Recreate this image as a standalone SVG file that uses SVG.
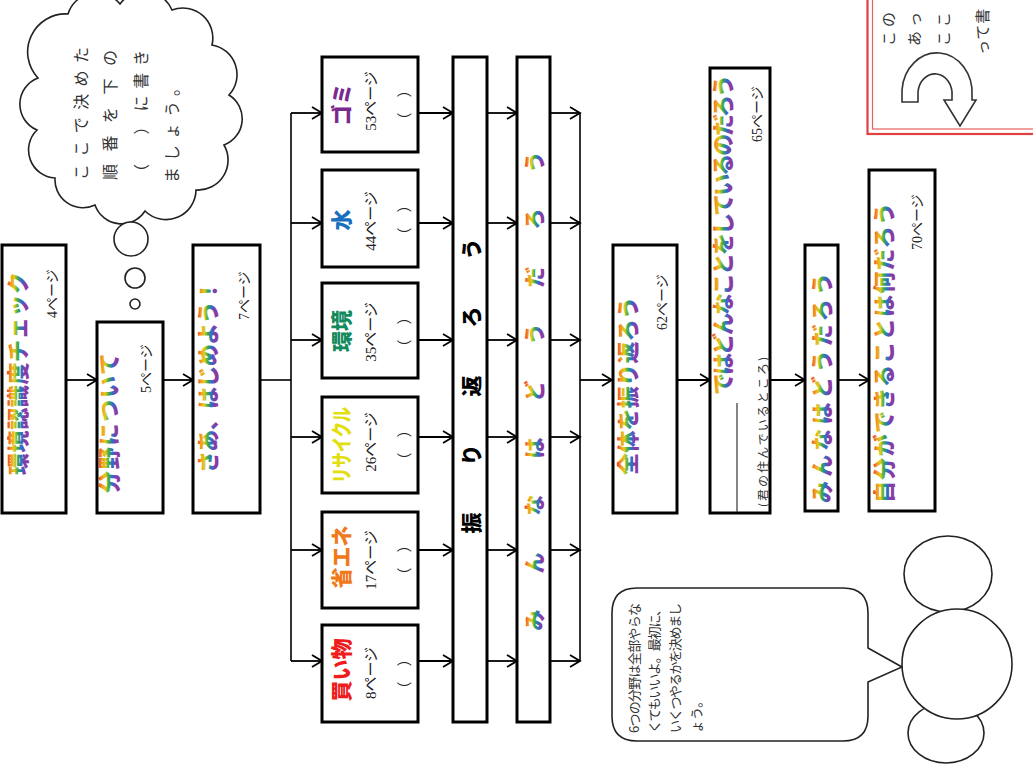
<svg xmlns="http://www.w3.org/2000/svg" width="1033" height="765" viewBox="0 0 1033 765">
<defs>
<style>
.box{fill:#fff;stroke:#000;stroke-width:3}
.ln{fill:none;stroke:#000;stroke-width:1.6}
.ar{fill:none;stroke:#000;stroke-width:1.8;marker-end:url(#ah)}
.ti{font-family:"Noto Sans CJK JP",sans-serif;dominant-baseline:central;font-weight:900;fill:url(#rb);font-size:22px}
.pg{font-family:"Liberation Serif","Noto Sans CJK JP",serif;dominant-baseline:central;font-size:14px;fill:#222}
.cat{font-family:"Noto Sans CJK JP",sans-serif;dominant-baseline:central;font-weight:900;font-size:21px;text-anchor:middle}
.cp{font-family:"Liberation Serif","Noto Sans CJK JP",serif;dominant-baseline:central;font-size:15px;text-anchor:middle;fill:#222}
.nt{font-family:"Noto Sans CJK JP",sans-serif;dominant-baseline:central;fill:#333}
.thin{fill:#fff;stroke:#222;stroke-width:1.6}
</style>
<linearGradient id="rb" x1="0" y1="0" x2="0" y2="1">
<stop offset="0.22" stop-color="#e8323c"/>
<stop offset="0.34" stop-color="#f39a1e"/>
<stop offset="0.45" stop-color="#e0cc1e"/>
<stop offset="0.56" stop-color="#3aa84a"/>
<stop offset="0.67" stop-color="#2b6fd0"/>
<stop offset="0.78" stop-color="#8a3aa0"/>
</linearGradient>
<marker id="ah" markerUnits="userSpaceOnUse" markerWidth="14" markerHeight="14" refX="12" refY="7" orient="auto">
<path d="M2,1 L12,7 L2,13" fill="none" stroke="#000" stroke-width="1.8"/>
</marker>
</defs>
<rect width="1033" height="765" fill="#fff"/>

<g id="thought-cloud">
<path class="thin" d="M68,14 A30,30 0 0 1 120,4 A30,30 0 0 1 172,10 A30,30 0 0 1 212,45 A30,30 0 0 1 229,95 A28,28 0 0 1 224,145 A30,30 0 0 1 196,190 A30,30 0 0 1 145,211 A28,28 0 0 1 95,205 A28,28 0 0 1 55,178 A28,28 0 0 1 37,130 A28,28 0 0 1 38,78 A38,38 0 0 1 68,14 Z"/>
<text class="nt" font-size="16" transform="translate(80,180) rotate(-90)" textLength="133" lengthAdjust="spacing">ここで決めた</text>
<text class="nt" font-size="16" transform="translate(109,180) rotate(-90)" textLength="130" lengthAdjust="spacing">順番を下の</text>
<text class="nt" font-size="16" transform="translate(140,180) rotate(-90)" textLength="130" lengthAdjust="spacing">（　）に書き</text>
<text class="nt" font-size="16" transform="translate(171,183) rotate(-90)" textLength="103" lengthAdjust="spacing">ましょう。</text>
<circle class="thin" cx="131" cy="239" r="17"/>
<circle class="thin" cx="135" cy="278" r="10"/>
<circle class="thin" cx="135" cy="304" r="5"/>
</g>

<g id="connectors">
<line class="ar" x1="66" y1="380" x2="97" y2="380"/>
<line class="ar" x1="163" y1="380" x2="193" y2="380"/>
<line class="ln" x1="260" y1="380" x2="291" y2="380"/>
<line class="ln" x1="291" y1="113" x2="291" y2="661"/>
<line class="ar" x1="291" y1="113" x2="322" y2="113"/>
<line class="ar" x1="291" y1="223" x2="322" y2="223"/>
<line class="ar" x1="291" y1="340" x2="322" y2="340"/>
<line class="ar" x1="291" y1="437" x2="322" y2="437"/>
<line class="ar" x1="291" y1="550" x2="322" y2="550"/>
<line class="ar" x1="291" y1="661" x2="322" y2="661"/>
<line class="ar" x1="418" y1="113" x2="453" y2="113"/>
<line class="ar" x1="418" y1="223" x2="453" y2="223"/>
<line class="ar" x1="418" y1="340" x2="453" y2="340"/>
<line class="ar" x1="418" y1="437" x2="453" y2="437"/>
<line class="ar" x1="418" y1="550" x2="453" y2="550"/>
<line class="ar" x1="418" y1="661" x2="453" y2="661"/>
<line class="ar" x1="487" y1="113" x2="517" y2="113"/>
<line class="ar" x1="487" y1="223" x2="517" y2="223"/>
<line class="ar" x1="487" y1="340" x2="517" y2="340"/>
<line class="ar" x1="487" y1="437" x2="517" y2="437"/>
<line class="ar" x1="487" y1="550" x2="517" y2="550"/>
<line class="ar" x1="487" y1="661" x2="517" y2="661"/>
<line class="ar" x1="550" y1="113" x2="580" y2="113"/>
<line class="ar" x1="550" y1="223" x2="580" y2="223"/>
<line class="ar" x1="550" y1="340" x2="580" y2="340"/>
<line class="ar" x1="550" y1="437" x2="580" y2="437"/>
<line class="ar" x1="550" y1="550" x2="580" y2="550"/>
<line class="ar" x1="550" y1="661" x2="580" y2="661"/>
<line class="ln" x1="580" y1="113" x2="580" y2="661"/>
<line class="ar" x1="580" y1="380" x2="612" y2="380"/>
<line class="ar" x1="677" y1="380" x2="710" y2="380"/>
<line class="ar" x1="770" y1="380" x2="805" y2="380"/>
<line class="ar" x1="838" y1="380" x2="869" y2="380"/>
</g>

<g id="n-check">
<rect class="box" x="2" y="245" width="64" height="268"/>
<text class="ti" transform="translate(16,475) rotate(-90)" textLength="203" lengthAdjust="spacing">環境認識度チェック</text>
<text class="pg" transform="translate(52,318) rotate(-90)">4ページ</text>
</g>

<g id="n-bunya">
<rect class="box" x="97" y="322" width="66" height="191"/>
<text class="ti" transform="translate(107,493) rotate(-90)" textLength="140" lengthAdjust="spacing">分野について</text>
<text class="pg" transform="translate(146,393) rotate(-90)">5ページ</text>
</g>

<g id="n-start">
<rect class="box" x="193" y="245" width="67" height="268"/>
<text class="ti" font-size="21" transform="translate(206,473) rotate(-90)" textLength="193" lengthAdjust="spacing">さあ、はじめよう！</text>
<text class="pg" transform="translate(244,320) rotate(-90)">7ページ</text>
</g>

<g id="n-gomi">
<rect class="box" x="322" y="57" width="96" height="95"/>
<text class="cat" fill="#7a2a8e" transform="translate(340,104.5) rotate(-90)">ゴミ</text>
<text class="cp" transform="translate(371,101) rotate(-90)">53ページ</text>
<text class="cp" transform="translate(405,105) rotate(-90)">（　）</text>
</g>

<g id="n-mizu">
<rect class="box" x="322" y="170" width="96" height="97"/>
<text class="cat" fill="#1b6fc0" transform="translate(340,220) rotate(-90)">水</text>
<text class="cp" transform="translate(371,221) rotate(-90)">44ページ</text>
<text class="cp" transform="translate(405,220) rotate(-90)">（　）</text>
</g>

<g id="n-kankyo">
<rect class="box" x="322" y="283" width="96" height="95"/>
<text class="cat" fill="#138a5e" transform="translate(340,331) rotate(-90)">環境</text>
<text class="cp" transform="translate(371,332) rotate(-90)">35ページ</text>
<text class="cp" transform="translate(405,332) rotate(-90)">（　）</text>
</g>

<g id="n-recycle">
<rect class="box" x="322" y="397" width="96" height="96"/>
<text class="cat" fill="#e3de10" font-size="17" transform="translate(340,445) rotate(-90)" textLength="76" lengthAdjust="spacingAndGlyphs">リサイクル</text>
<text class="cp" transform="translate(371,442) rotate(-90)">26ページ</text>
<text class="cp" transform="translate(405,445) rotate(-90)">（　）</text>
</g>

<g id="n-shoene">
<rect class="box" x="322" y="512" width="96" height="96"/>
<text class="cat" fill="#f07a1a" font-size="20" transform="translate(340,557) rotate(-90)">省エネ</text>
<text class="cp" transform="translate(371,560) rotate(-90)">17ページ</text>
<text class="cp" transform="translate(405,560) rotate(-90)">（　）</text>
</g>

<g id="n-kaimono">
<rect class="box" x="322" y="625" width="96" height="97"/>
<text class="cat" fill="#ee1c1c" transform="translate(340,670) rotate(-90)">買い物</text>
<text class="cp" transform="translate(371,673) rotate(-90)">8ページ</text>
<text class="cp" transform="translate(405,674) rotate(-90)">（　）</text>
</g>

<g id="n-furikaero">
<rect class="box" x="453" y="57" width="34" height="665"/>
<g class="cat" font-size="22" fill="#000">
<text transform="translate(470,523) rotate(-90)">振</text>
<text transform="translate(470,455) rotate(-90)">り</text>
<text transform="translate(470,386) rotate(-90)">返</text>
<text transform="translate(470,317) rotate(-90)">ろ</text>
<text transform="translate(470,249) rotate(-90)">う</text>
</g>
</g>

<g id="n-minna-bar">
<rect class="box" x="517" y="57" width="33" height="665"/>
<g class="cat" font-size="20" fill="url(#rb)">
<text transform="translate(533,620) rotate(-90)">み</text>
<text transform="translate(533,563) rotate(-90)">ん</text>
<text transform="translate(533,505) rotate(-90)">な</text>
<text transform="translate(533,448) rotate(-90)">は</text>
<text transform="translate(533,391) rotate(-90)">ど</text>
<text transform="translate(533,334) rotate(-90)">う</text>
<text transform="translate(533,277) rotate(-90)">だ</text>
<text transform="translate(533,219) rotate(-90)">ろ</text>
<text transform="translate(533,162) rotate(-90)">う</text>
</g>
</g>

<g id="n-zentai">
<rect class="box" x="613" y="245" width="64" height="268"/>
<text class="ti" transform="translate(626,475) rotate(-90)" textLength="178" lengthAdjust="spacing">全体を振り返ろう</text>
<text class="pg" transform="translate(662,330) rotate(-90)">62ページ</text>
</g>

<g id="n-dewa">
<rect class="box" x="710" y="68" width="60" height="445"/>
<text class="ti" font-size="19.5" transform="translate(721,395) rotate(-90)" textLength="320" lengthAdjust="spacing">ではどんなことをしているのだろう</text>
<text class="pg" transform="translate(757,142) rotate(-90)">65ページ</text>
<line x1="737" y1="403" x2="737" y2="512" stroke="#333" stroke-width="1.2"/>
<text class="nt" font-size="12" transform="translate(762,507) rotate(-90)" textLength="150" lengthAdjust="spacing">(君の住んでいるところ)</text>
</g>

<g id="n-minna">
<rect class="box" x="805" y="245" width="33" height="266"/>
<text class="ti" font-size="21" transform="translate(820,503) rotate(-90)" textLength="230" lengthAdjust="spacing">みんなはどうだろう</text>
</g>

<g id="n-jibun">
<rect class="box" x="869" y="170" width="66" height="341"/>
<text class="ti" transform="translate(882,503) rotate(-90)" textLength="300" lengthAdjust="spacing">自分ができることは何だろう</text>
<text class="pg" transform="translate(917,250) rotate(-90)">70ページ</text>
</g>

<g id="speech-bubble">
<path class="thin" d="M637,588 L843,588 Q868,588 868,613 L868,648 L902,667 L868,682 L868,716 Q868,741 843,741 L637,741 Q612,741 612,716 L612,613 Q612,588 637,588 Z"/>
<text class="nt" font-size="13" transform="translate(633,733) rotate(-90)" textLength="130" lengthAdjust="spacing">6つの分野は全部やらな</text>
<text class="nt" font-size="13" transform="translate(653,733) rotate(-90)" textLength="130" lengthAdjust="spacing">くてもいいよ。最初に、</text>
<text class="nt" font-size="13" transform="translate(674,733) rotate(-90)" textLength="130" lengthAdjust="spacing">いくつやるかを決めまし</text>
<text class="nt" font-size="13" transform="translate(695,733) rotate(-90)">ょう。</text>
</g>

<g id="circles">
<ellipse class="thin" cx="948" cy="574" rx="44" ry="38"/>
<ellipse class="thin" cx="946" cy="733" rx="38" ry="30"/>
<circle class="thin" cx="957" cy="664" r="55"/>
</g>

<g id="note-box">
<rect x="867.5" y="-10" width="180" height="144" fill="#fff" stroke="#e04040" stroke-width="2.2"/>
<rect x="872.5" y="-10" width="180" height="139" fill="none" stroke="#e86060" stroke-width="1.2"/>
<text class="nt" font-size="15" letter-spacing="4" transform="translate(887,46) rotate(-90)">この</text>
<text class="nt" font-size="15" letter-spacing="4" transform="translate(913,46) rotate(-90)">あっ</text>
<text class="nt" font-size="15" letter-spacing="4" transform="translate(942,46) rotate(-90)">ここ</text>
<text class="nt" font-size="15" letter-spacing="1" transform="translate(981,55) rotate(-90)">って書</text>
<path d="M902,102 L902,90 A35,40 0 0 1 972,96 L972,100 L976,100 L960,126 L944,100 L952,100 L952,96 A17,20 0 0 0 918,92 L918,102 Z" fill="#fff" stroke="#333" stroke-width="1.6"/>
</g>
</svg>
